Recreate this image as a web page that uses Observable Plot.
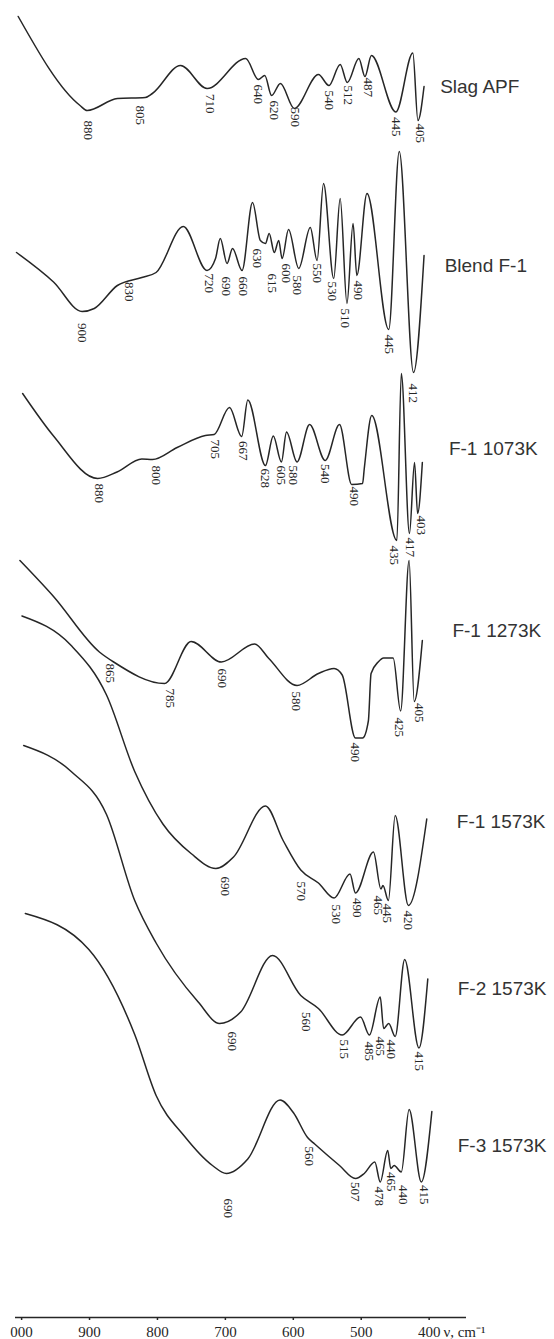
<!DOCTYPE html>
<html>
<head>
<meta charset="utf-8">
<script src="https://cdn.jsdelivr.net/npm/d3@7"></script>
<script src="https://cdn.jsdelivr.net/npm/@observablehq/plot@0.6"></script>
<style>
  body { margin: 0; background: #fff; }
  #chart svg { display: block; background: #fff; }
</style>
</head>
<body>
<div id="chart"></div>
<script>
// Wavenumber axis
const tickValues = [1000, 900, 800, 700, 600, 500, 400];
const tickLabels = ["000", "900", "800", "700", "600", "500", "400"];
const axisTitle = "ν, cm⁻¹";
const axisTitleAt = 379; // wavenumber where the axis title starts

// Spectra: [wavenumber (as read on the axis), offset transmittance (a.u.)]
const slagAPF = [
  [1005,1301],[914,1212],[903.5,1207],[859,1219],[818,1220],[807.5,1224],[766,1252],[727,1229],
  [670,1259],[651.5,1238],[642,1242],[632,1222],[619,1234],[598.5,1209],[563,1243],[547.5,1232],
  [531,1253],[520.5,1235],[503.5,1259],[494.5,1241],[485,1262],[449,1205.5],[424,1264.5],[416.5,1197],[407.5,1231]
];
const blendF1 = [
  [1007.5,1065],[953,1035.5],[911,1006],[893,1009],[859,1032],[823,1040],[802,1045],[762,1091],
  [727,1047],[714.5,1059],[707.5,1079],[697.5,1054],[689.5,1069],[675.5,1047],[660,1115],[648.5,1077],
  [641,1074],[635.5,1084],[628,1065],[621.5,1077],[616.5,1059],[607,1088],[592,1049],[575,1090],
  [565,1057],[555.5,1134],[540.5,1039],[531,1119],[521,1014],[512,1094],[506.5,1042],[491.5,1124],
  [459.5,988],[444,1166],[423,945],[407.5,1062]
];
const f1_1073 = [
  [998.5,924],[953,881.5],[888,839],[859.5,845.5],[823,858.5],[807.5,858],[771,870],[729.5,882],
  [716.5,883],[694,910],[676,881],[667,917.5],[641,852],[629.5,881.5],[617.5,855.5],[610,885.5],
  [594.5,855.5],[576,893],[553,857],[532,893],[514,833],[498,834],[495.5,849],[484.5,902],
  [447.5,777],[441,944],[429,784],[421.5,855],[417,804],[410,855]
];
const f1_1273 = [
  [1002.5,757],[953,721],[885.5,665.5],[864.5,655.5],[789.5,634],[750.5,676],[706,655.5],[657,673.5],
  [636,659],[594.5,632],[563,644],[540,649],[528,642.5],[508.5,579.5],[498,579.5],[489.5,596.5],
  [485.5,644],[475,655.5],[467,659.5],[453,659.5],[442,606.5],[429.5,757],[422,616],[410,677]
];
const f1_1573 = [
  [999.5,701.5],[927,672],[875,622.5],[833.5,546],[792,493.5],[750.5,464],[714,449],[688,460.5],
  [641,511.5],[615,477],[589,447.5],[563,434.5],[540,419.5],[516.5,443.5],[508.5,424.5],[482,465.5],
  [471,428.5],[468,432],[460,417],[450,502],[430.5,412],[403.5,498.5]
];
const f2_1573 = [
  [997,572],[927,546],[875,503],[833.5,417],[802,374.5],[740,315.5],[708.5,294],[677.5,305.5],
  [630.5,362],[589,322],[563,309],[528,282.5],[501,300.5],[488,282.5],[472,320.5],[467,289],
  [459.5,294],[450,281],[436,358],[415,269.5],[402,338.5]
];
const f3_1573 = [
  [994.5,404],[901,368],[833.5,283],[802,222],[760.5,181.5],[719,152],[698.5,144],[667,158.5],
  [619.5,217.5],[599.5,204.5],[579,180],[568.5,173.5],[532,152],[508.5,139],[495.5,144],[480,155.5],
  [472,135.5],[461,167],[456.5,149],[451.5,152],[441,145.5],[429.5,208],[411.5,135.5],[396,206]
];

// Band labels: [wavenumber, offset transmittance, label]
const slagAPFBands = [
  [902,1197,"880"],[825.5,1212,"805"],[722,1223.5,"710"],[651.5,1233,"640"],[628,1217,"620"],
  [597,1210,"590"],[547.5,1227,"540"],[519,1232,"512"],[490.5,1240,"487"],[448,1200.5,"445"],[412.5,1194,"405"]
];
const blendF1Bands = [
  [911,994.5,"900"],[841,1035.5,"830"],[723.5,1044,"720"],[698.5,1041,"690"],[673.5,1041,"660"],
  [653.5,1069,"630"],[631.5,1044,"615"],[610.5,1054,"600"],[594,1042,"580"],[565,1054,"550"],
  [543,1036,"530"],[523.5,1009,"510"],[504,1037,"490"],[459.5,983,"445"],[423.5,934,"412"]
];
const f1_1073Bands = [
  [886.5,834,"880"],[802,852,"800"],[715,878,"705"],[673.5,876.5,"667"],[642,849,"628"],
  [617.5,852,"605"],[599.5,852,"580"],[553,853.5,"540"],[511,831,"490"],[451.5,772,"435"],
  [428,780,"417"],[412,802,"403"]
];
const f1_1273Bands = [
  [870,654,"865"],[781.5,629,"785"],[704.5,649,"690"],[595.5,626,"580"],[508.5,575,"490"],
  [443.5,600,"425"],[415,614.5,"405"]
];
const f1_1573Bands = [
  [701,441,"690"],[589,436,"570"],[537,413,"530"],[506,419.5,"490"],[474.5,422,"465"],
  [462,414,"445"],[430.5,407,"420"]
];
const f2_1573Bands = [
  [690.5,286,"690"],[581.5,305.5,"560"],[524.5,278,"515"],[488,276,"485"],[472,281,"465"],
  [456.5,278,"440"],[415,266,"415"]
];
const f3_1573Bands = [
  [695.5,119,"690"],[576,171,"560"],[508.5,135.5,"507"],[474,131,"478"],[456.5,145.5,"465"],
  [438.5,132.5,"440"],[407.5,132.5,"415"]
];

// Sample names and where they sit (wavenumber, offset transmittance)
const seriesNames = ["Slag APF", "Blend F-1", "F-1 1073K", "F-1 1273K", "F-1 1573K", "F-2 1573K", "F-3 1573K"];
const seriesNameAt = [[383.8,1231],[377.2,1052],[370.9,868.5],[365.7,686.7],[359.3,495.3],[357.9,328.5],[357.9,171.8]];

const spectra = [slagAPF, blendF1, f1_1073, f1_1273, f1_1573, f2_1573, f3_1573];
const bands = [slagAPFBands, blendF1Bands, f1_1073Bands, f1_1273Bands, f1_1573Bands, f2_1573Bands, f3_1573Bands];

const lineRows = spectra.flatMap((pts, i) => pts.map(([v, t]) => ({name: seriesNames[i], v, t})));
const bandRows = bands.flatMap(b => b.map(([v, t, label]) => ({v, t, label})));
const nameRows = seriesNames.map((name, i) => ({name, v: seriesNameAt[i][0], t: seriesNameAt[i][1]}));

const ink = "#262626";

const chart = Plot.plot({
  width: 554,
  height: 1339,
  marginLeft: 15,
  marginRight: 88,
  marginTop: 0,
  marginBottom: 22,
  x: {domain: [1009, 345]},
  y: {domain: [0, 1317], axis: null},
  marks: [
    Plot.ruleY([0], {stroke: ink, strokeWidth: 1.5}),
    Plot.axisX({
      ticks: tickValues,
      tickFormat: d => tickLabels[tickValues.indexOf(d)],
      tickSize: 3,
      tickPadding: 6,
      stroke: ink,
      strokeWidth: 1.5,
      fill: ink,
      fontSize: 15,
      fontFamily: "Liberation Serif",
      label: null
    }),
    Plot.text([axisTitle], {
      x: () => axisTitleAt, y: () => 0, text: d => d,
      textAnchor: "start", lineAnchor: "top", dy: 9,
      fontSize: 15, fontFamily: "Liberation Serif", fill: ink
    }),
    Plot.line(lineRows, {
      x: "v", y: "t", z: "name", curve: "monotone-x",
      stroke: ink, strokeWidth: 1.5
    }),
    Plot.text(bandRows, {
      x: "v", y: "t", text: "label", rotate: 90,
      textAnchor: "start", lineAnchor: "middle",
      fontSize: 13, fontFamily: "Liberation Serif", fill: ink
    }),
    Plot.text(nameRows, {
      x: "v", y: "t", text: "name",
      textAnchor: "start", lineAnchor: "middle",
      fontSize: 19, fontFamily: "Liberation Sans", fill: "#333"
    })
  ]
});

document.getElementById("chart").appendChild(chart);
</script>
</body>
</html>
